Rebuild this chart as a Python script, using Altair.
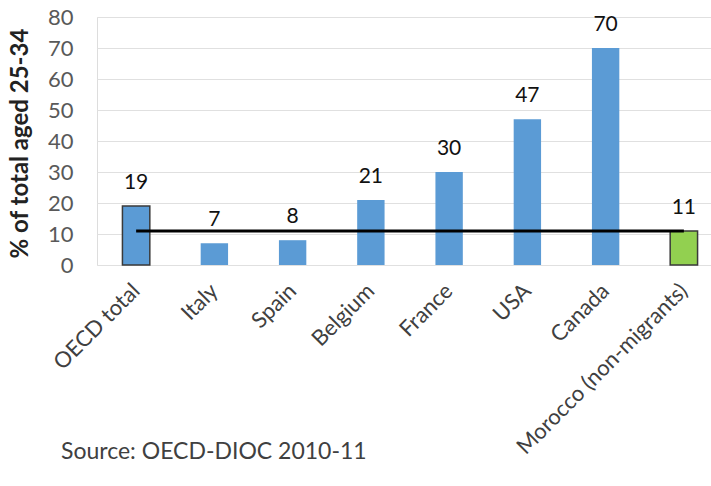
import altair as alt
import pandas as pd

categories = ["OECD total", "Italy", "Spain", "Belgium", "France", "USA", "Canada", "Morocco (non-migrants)"]
values = [19, 7, 8, 21, 30, 47, 70, 11]
fills = ["#5B9BD5", "#5B9BD5", "#5B9BD5", "#5B9BD5", "#5B9BD5", "#5B9BD5", "#5B9BD5", "#92D050"]
stroke_widths = [1.5, 0, 0, 0, 0, 0, 0, 1.5]
reference_level = 11
y_ticks = [0, 10, 20, 30, 40, 50, 60, 70, 80]

df = pd.DataFrame({"cat": categories, "val": values, "fill": fills, "sw": stroke_widths})
line_df = pd.DataFrame({"cat": [categories[0], categories[-1]], "val": [reference_level, reference_level]})

FONT = "Lato"

x_enc = alt.X(
    "cat:N",
    sort=categories,
    scale=alt.Scale(range=[0, 626], paddingInner=0.65, paddingOuter=0.325),
    axis=alt.Axis(
        title=None, labelAngle=-45, labelAlign="right", labelBaseline="middle",
        labelFontSize=22, labelColor="#404040", labelFont=FONT, labelPadding=22,
        ticks=False, domain=False, labelLimit=400, labelOverlap=False,
    ),
)
y_enc = alt.Y(
    "val:Q", scale=alt.Scale(domain=[0, 80], nice=False),
    axis=alt.Axis(
        title="% of total aged 25-34", values=y_ticks, titleFontSize=24,
        titleFont=FONT, titleColor="#222222", titleFontWeight="bold",
        titleAngle=-90, titleX=-77, titleY=126, titleAlign="center", titleBaseline="middle",
        labelFontSize=22, labelFont=FONT, labelColor="#595959", labelPadding=24,
        labelOverlap=False, ticks=False, domain=False, gridColor="#E0E0E0", gridWidth=1,
    ),
)

bars = alt.Chart(df).mark_bar(stroke="#3A3A3A").encode(
    x=x_enc,
    y=y_enc,
    fill=alt.Fill("fill:N", scale=None),
    strokeWidth=alt.StrokeWidth("sw:Q", scale=None),
)

labels = alt.Chart(df).mark_text(baseline="bottom", dy=-13, fontSize=21, font=FONT, color="#111111").encode(
    x=x_enc,
    y=y_enc,
    text="val:Q",
)

line = alt.Chart(line_df).mark_line(color="#000000", strokeWidth=3).encode(
    x=x_enc,
    y=y_enc,
)

source = alt.Chart(pd.DataFrame({"t": ["Source: OECD-DIOC 2010-11"]})).mark_text(
    align="left", baseline="middle", fontSize=23, font=FONT, color="#404040"
).encode(x=alt.value(-36), y=alt.value(435), text="t:N")

chart = alt.layer(bars, line, labels, source).properties(
    width=614, height=248,
    autosize=alt.AutoSizeParams(type="none"),
    padding={"left": 97, "top": 17, "right": 0, "bottom": 221},
).configure_view(stroke=None).configure(background="white")

chart.save("out.html", embed_options={"renderer": "svg", "actions": False})
